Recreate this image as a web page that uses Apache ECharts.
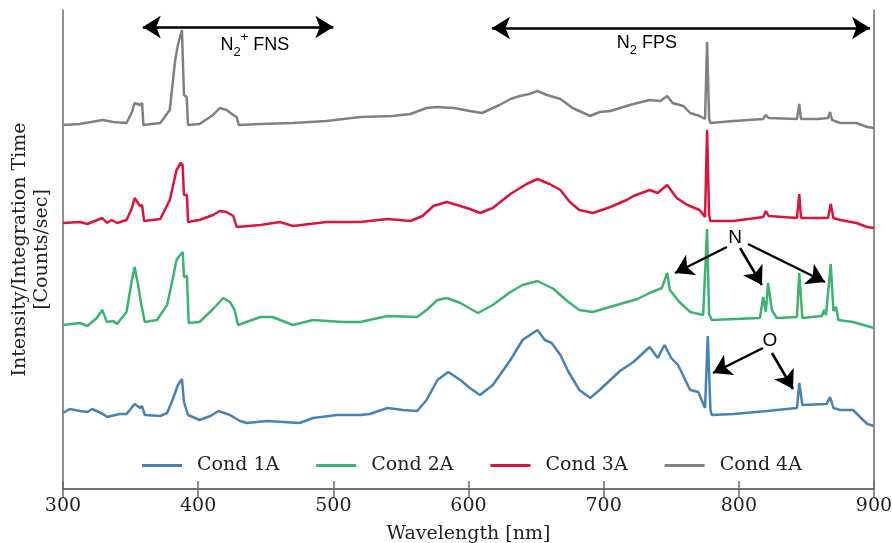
<!DOCTYPE html>
<html>
<head>
<meta charset="utf-8">
<script src="https://cdn.jsdelivr.net/npm/echarts@6/dist/echarts.min.js"></script>
<style>
  html, body { margin: 0; padding: 0; background: #fff; }
  #chart { width: 892px; height: 543px; }
</style>
</head>
<body>
<div id="chart"></div>
<script>
// wavelengths [nm] and stacked (offset) intensities, arbitrary units
var wl1A = [300,305,312.6,318,321.5,329.6,332.5,342,347,353,357,358.5,360.5,372,377,381,385,388,389.5,392.5,401,409,415,423.5,431,436,451,475,485,502.6,520,527,540,551.5,562,569,577,585,594,601,608.5,618,631,640,645.5,651,656.5,661.5,668,674,682,690,697,712,722,734,740,745,750,755,764,770,775,777,779,780,796,821,843,844.7,847,865,867.5,870,875,884.5,895,900];
var val1A = [76,80,78,77,80,75,72,75,75,85,81,83,74,73,76,89,104,110,87,74,69,73,78,74,68,66,68,66,71,74,74,75,81,79,78,89,109,117,109,101,94,104,129,149,154,159,149,146,134,117,99,91,99,118,127,142,131,144,131,124,99,97,81,153,79,74,75,78,81,106,84,85,92,81,79,79,65,63];

var wl2A = [300,312.6,318,325,329,332.5,337,340,347,351,353,355.6,358,360.5,369.5,377,381,384,386,388.6,389.5,391.7,393,401,411,418.5,423.5,427,429.5,446,455,470,485,507,520,540,562,569,577,584,594,607,618,631,640,651,663,673,682,692,707,725,734,743,747,749,756,764,773.6,776.5,778,780,815.6,818,820,821.6,824.5,828,843,844.7,847,861.5,863,864.5,868,870,872,873.6,884.5,900];
var val2A = [164,166,163,171,179,167,168,165,177,209,222,204,184,167,169,184,209,229,233,237,212,213,166,167,180,191,187,179,164,172,172,164,169,167,167,173,172,179,189,191,186,176,184,197,204,208,200,188,179,177,183,190,196,201,216,199,187,177,174,260,175,169,171,192,177,206,179,171,172,216,171,173,179,174,225,178,182,169,167,161];

var wl3A = [300,312.6,318,329,332.5,336,340,347,351,353,357,358.5,360,372,379,384,387,388.5,389.5,391.7,392.5,401,411,416,421,426,428.5,446,460.5,470,495,520,540,557,566,574,584,591.5,601,608.5,618,631,643,651,660,668,675,682,692,705,717,722,734,740,747,754,762,771,775,776.5,778,779,796,818,820,822,843,844.7,846,858,866,868,870,875,887,895,900];
var val3A = [266,267,265,271,266,269,266,269,281,291,283,284,268,270,289,319,326,324,294,294,267,269,274,278,277,273,262,264,267,263,267,267,270,268,273,283,287,284,280,276,281,295,305,310,305,299,287,279,276,282,289,293,299,296,304,291,284,279,272,359,274,268,268,272,278,273,271,295,271,271,271,285,271,269,266,262,261];

var wl4A = [300,312,329.6,337,347,351,353,357,358.5,359.5,372,379,383,385,387,388,389.5,391.5,392.5,401,411,416,421,426,428.5,430,446,470,495,520,544,557,569,577,589,601,610,623,631,638,645,651,658,668,677,690,697,705,717,722,734,742,747,751,759,764,771,775,776.5,778,779,796,818,820,822,843,844.7,846,858,866,867.5,869,875,887,895,900];
var val4A = [364,365,369,367,366,377,386,384,386,364,366,379,429,444,454,459,394,392,364,365,374,381,379,374,372,364,365,366,368,372,373,375,381,382,381,378,376,384,390,393,395,398,394,390,381,373,377,378,383,385,389,388,393,386,383,376,373,370,447,370,366,368,370,374,371,370,385,370,370,371,377,369,366,366,362,361];

var seriesNames = ['Cond 1A', 'Cond 2A', 'Cond 3A', 'Cond 4A'];
var seriesColors = ['#4682b4', '#3cb371', '#dc143c', '#808080'];
var xTicks = [300, 400, 500, 600, 700, 800, 900];

function pairs(xs, ys) {
    return xs.map(function (x, i) { return [x, ys[i]]; });
}

var chart = echarts.init(document.getElementById('chart'));

var serif = 'DejaVu Serif';
var sans = 'Liberation Sans';
var frameColor = '#6b6b6b';

var spectra = [pairs(wl1A, val1A), pairs(wl2A, val2A), pairs(wl3A, val3A), pairs(wl4A, val4A)];

var series = spectra.map(function (d, i) {
    return {
        name: seriesNames[i],
        type: 'line',
        data: d,
        symbol: 'none',
        lineStyle: { width: 2.5, color: seriesColors[i] },
        itemStyle: { color: seriesColors[i] },
        z: 2 + i
    };
});

// annotation arrows + labels, placed in data coordinates
var arrow = function (a, b, both) {
    return [
        { coord: a, symbol: both ? 'arrow' : 'none' },
        { coord: b, symbol: 'arrow' }
    ];
};
series.push({
    type: 'line',
    data: [],
    silent: true,
    z: 10,
    markLine: {
        silent: true,
        animation: false,
        symbolSize: [17, 18],
        lineStyle: { color: '#000', width: 2.5, type: 'solid' },
        label: { show: false },
        data: [
            arrow([359, 462], [500, 462], true),
            arrow([617.4, 461], [897, 461], true),
            arrow([791.2, 242], [752.8, 216]),
            arrow([800.9, 241], [817.1, 204]),
            arrow([806.8, 245], [863.7, 207]),
            arrow([817.9, 141], [780.9, 116]),
            arrow([824.5, 136], [840.1, 100])
        ]
    },
    markPoint: {
        silent: true,
        animation: false,
        symbol: 'rect',
        symbolSize: 0,
        data: [
            { coord: [442, 444], label: { formatter: '{n|N}{sub|2}{sup|+}{n| FNS}' } },
            { coord: [732, 446], label: { formatter: '{n|N}{sub|2}{n| FPS}' } },
            { coord: [797.2, 251], label: { formatter: '{b|N}' } },
            { coord: [823, 148], label: { formatter: '{b|O}' } }
        ],
        label: {
            show: true,
            position: 'inside',
            color: '#000',
            fontFamily: sans,
            rich: {
                n: { fontSize: 18, fontFamily: sans, color: '#000', lineHeight: 28 },
                sub: { fontSize: 13, fontFamily: sans, color: '#000', verticalAlign: 'bottom', lineHeight: 28 },
                sup: { fontSize: 13, fontFamily: sans, color: '#000', verticalAlign: 'top', lineHeight: 28 },
                b: { fontSize: 19, fontFamily: sans, color: '#000' }
            }
        }
    }
});

var option = {
    animation: false,
    backgroundColor: '#fff',
    grid: { left: 63, right: 18, top: 10, bottom: 54, outerBoundsMode: 'none' },
    legend: {
        data: seriesNames,
        left: 137,
        top: 451,
        icon: 'rect',
        itemWidth: 40,
        itemHeight: 3,
        itemGap: 37,
        textStyle: { fontFamily: serif, fontSize: 19, color: '#222', padding: [0, 0, 0, 10] }
    },
    xAxis: [{
        type: 'value',
        min: 300, max: 900, interval: 100,
        name: 'Wavelength [nm]',
        nameLocation: 'middle',
        nameGap: 36,
        nameTextStyle: { fontFamily: serif, fontSize: 19, color: '#222' },
        axisLine: { show: true, lineStyle: { color: frameColor, width: 1.5 } },
        axisTick: { show: true, inside: true, length: 8, lineStyle: { color: frameColor, width: 1.5 } },
        axisLabel: {
            fontFamily: serif, fontSize: 19, color: '#222', margin: 8,
            formatter: function (v) { return xTicks.indexOf(v) >= 0 ? String(v) : ''; }
        },
        splitLine: { show: false }
    }, {
        type: 'value',
        position: 'top',
        min: 300, max: 900, interval: 100,
        axisLine: { show: true, lineStyle: { color: frameColor, width: 1.5 } },
        axisTick: { show: true, inside: true, length: 8, lineStyle: { color: frameColor, width: 1.5 } },
        axisLabel: { show: false },
        splitLine: { show: false }
    }],
    yAxis: [{
        type: 'value',
        min: 0, max: 479,
        name: 'Intensity/Integration Time\n[Counts/sec]',
        nameLocation: 'middle',
        nameGap: 10,
        nameTextStyle: { fontFamily: serif, fontSize: 19, color: '#222', lineHeight: 22 },
        axisLine: { show: true, lineStyle: { color: frameColor, width: 1.5 } },
        axisTick: { show: false },
        axisLabel: { show: false },
        splitLine: { show: false }
    }, {
        type: 'value',
        position: 'right',
        min: 0, max: 479,
        axisLine: { show: true, lineStyle: { color: frameColor, width: 1.5 } },
        axisTick: { show: false },
        axisLabel: { show: false },
        splitLine: { show: false }
    }],
    series: series
};

chart.setOption(option);
</script>
</body>
</html>
